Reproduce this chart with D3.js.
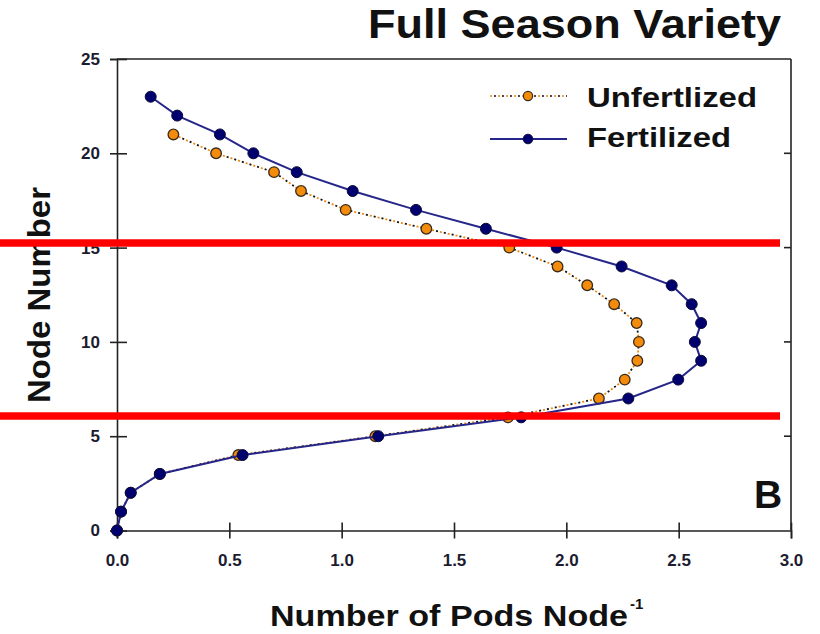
<!DOCTYPE html>
<html>
<head>
<meta charset="utf-8">
<script src="https://cdn.jsdelivr.net/npm/d3@7"></script>
<style>
  html, body { margin: 0; padding: 0; background: #ffffff; }
  svg { display: block; }
  text { font-family: "Liberation Sans", Arial, sans-serif; font-weight: bold; }
</style>
</head>
<body>
<svg id="chart" width="820" height="634"></svg>
<script>
// Node positions on the main stem
const nodes = [0, 1, 2, 3, 4, 5, 6, 7, 8, 9, 10, 11, 12, 13, 14, 15, 16, 17, 18, 19, 20, 21, 22, 23];

// Pods per node, unfertilized plants (no pods recorded above node 21)
const unfertilized = [0, 0.018, 0.061, 0.19, 0.54, 1.15, 1.74, 2.145, 2.26, 2.316, 2.323, 2.313, 2.213, 2.093,
                      1.961, 1.746, 1.377, 1.018, 0.819, 0.699, 0.441, 0.251, null, null];

// Pods per node, fertilized plants
const fertilized = [0, 0.018, 0.061, 0.191, 0.559, 1.163, 1.799, 2.276, 2.498, 2.6, 2.572, 2.6, 2.558, 2.469,
                    2.246, 1.957, 1.642, 1.331, 1.049, 0.8, 0.607, 0.458, 0.268, 0.15];

const xTicks = [0, 0.5, 1, 1.5, 2, 2.5, 3];
const yTicks = [0, 5, 10, 15, 20, 25];

// Node levels bracketed by the highlight bands
const bandNodes = [15.24, 6.07];

const svg = d3.select("#chart");

const x = d3.scaleLinear().domain([0, 3]).range([117, 791]);
const y = d3.scaleLinear().domain([0, 25]).range([530.5, 59]);

const tickColor = "#1c1c30";

// Frame: top and right edges
svg.append("line").attr("x1", x(0)).attr("x2", x(3)).attr("y1", y(25)).attr("y2", y(25))
  .attr("stroke", "#222").attr("stroke-width", 1.6);
svg.append("line").attr("x1", x(3)).attr("x2", x(3)).attr("y1", y(25)).attr("y2", y(0))
  .attr("stroke", "#222").attr("stroke-width", 1.6);
// inward ticks on the right edge
svg.selectAll("line.rtick").data(yTicks.filter(d => d > 0 && d < 25)).join("line")
  .attr("class", "rtick")
  .attr("x1", x(3) - 7).attr("x2", x(3))
  .attr("y1", d => y(d)).attr("y2", d => y(d))
  .attr("stroke", "#222").attr("stroke-width", 1.6);

// Bottom axis
const gx = svg.append("g").attr("transform", `translate(0,${y(0)})`)
  .call(d3.axisBottom(x).tickValues(xTicks).tickFormat(d3.format(".1f")).tickSize(8).tickPadding(15));
gx.select(".domain").attr("stroke", "#222").attr("stroke-width", 1.6);
gx.selectAll(".tick line").attr("y1", -8).attr("y2", 8).attr("stroke", "#222").attr("stroke-width", 1.6);
gx.selectAll(".tick text").attr("font-size", 17).attr("fill", tickColor)
  .attr("font-family", "Liberation Sans, Arial, sans-serif").attr("font-weight", "bold");

// Left axis
const gy = svg.append("g").attr("transform", `translate(${x(0)},0)`)
  .call(d3.axisLeft(y).tickValues(yTicks).tickSize(7).tickPadding(10));
gy.select(".domain").attr("stroke", "#222").attr("stroke-width", 1.6);
gy.selectAll(".tick line").attr("x1", -7).attr("x2", 10).attr("stroke", "#222").attr("stroke-width", 1.6);
gy.selectAll(".tick text").attr("font-size", 17).attr("fill", tickColor)
  .attr("font-family", "Liberation Sans, Arial, sans-serif").attr("font-weight", "bold");

// Series lines
const rows = nodes.map((n, i) => ({ n, u: unfertilized[i], f: fertilized[i] }));

const lineU = d3.line().defined(d => d.u != null).x(d => x(d.u)).y(d => y(d.n));
const lineF = d3.line().defined(d => d.f != null).x(d => x(d.f)).y(d => y(d.n));

// dotted unfertilized line: orange and black dots alternating
svg.append("path").datum(rows).attr("d", lineU).attr("fill", "none")
  .attr("stroke", "#f28a12").attr("stroke-width", 1.8).attr("stroke-dasharray", "2 6");
svg.append("path").datum(rows).attr("d", lineU).attr("fill", "none")
  .attr("stroke", "#111").attr("stroke-width", 1.8).attr("stroke-dasharray", "2 6").attr("stroke-dashoffset", 4);

svg.selectAll("circle.u").data(rows.filter(d => d.u != null)).join("circle")
  .attr("class", "u").attr("cx", d => x(d.u)).attr("cy", d => y(d.n)).attr("r", 5.3)
  .attr("fill", "#f38b0c").attr("stroke", "#3a2a1a").attr("stroke-width", 1.3);

svg.append("path").datum(rows).attr("d", lineF).attr("fill", "none")
  .attr("stroke", "#26268a").attr("stroke-width", 2);

svg.selectAll("circle.f").data(rows.filter(d => d.f != null)).join("circle")
  .attr("class", "f").attr("cx", d => x(d.f)).attr("cy", d => y(d.n)).attr("r", 5.5)
  .attr("fill", "#00006e").attr("stroke", "#0c0c3a").attr("stroke-width", 1);

// Legend
const lg = svg.append("g");
lg.append("line").attr("x1", 490).attr("x2", 567).attr("y1", 96).attr("y2", 96)
  .attr("stroke", "#f28a12").attr("stroke-width", 1.6).attr("stroke-dasharray", "2 6");
lg.append("line").attr("x1", 490).attr("x2", 567).attr("y1", 96).attr("y2", 96)
  .attr("stroke", "#111").attr("stroke-width", 1.6).attr("stroke-dasharray", "2 6").attr("stroke-dashoffset", 4);
lg.append("circle").attr("cx", 528).attr("cy", 96).attr("r", 4.6)
  .attr("fill", "#f38b0c").attr("stroke", "#3a2a1a").attr("stroke-width", 1.2);
lg.append("line").attr("x1", 490).attr("x2", 567).attr("y1", 139).attr("y2", 139)
  .attr("stroke", "#26268a").attr("stroke-width", 2);
lg.append("circle").attr("cx", 528).attr("cy", 139).attr("r", 4.8)
  .attr("fill", "#00006e").attr("stroke", "#0c0c3a").attr("stroke-width", 1);
lg.append("text").attr("x", 587).attr("y", 107).attr("font-size", 28).attr("fill", "#111")
  .attr("textLength", 170).attr("lengthAdjust", "spacingAndGlyphs").text("Unfertlized");
lg.append("text").attr("x", 587).attr("y", 147).attr("font-size", 28).attr("fill", "#111")
  .attr("textLength", 144).attr("lengthAdjust", "spacingAndGlyphs").text("Fertilized");

// Panel letter
svg.append("text").attr("x", 754).attr("y", 508).attr("font-size", 39).attr("fill", "#111").text("B");

// Title
svg.append("text").attr("x", 368).attr("y", 38).attr("font-size", 40).attr("fill", "#111")
  .attr("textLength", 413).attr("lengthAdjust", "spacingAndGlyphs").text("Full Season Variety");

// Axis titles
svg.append("text").attr("transform", "translate(50,295) rotate(-90)").attr("text-anchor", "middle")
  .attr("font-size", 32).attr("fill", "#111")
  .attr("textLength", 216).attr("lengthAdjust", "spacingAndGlyphs").text("Node Number");
svg.append("text").attr("x", 270).attr("y", 626).attr("font-size", 30).attr("fill", "#111")
  .attr("textLength", 358).attr("lengthAdjust", "spacingAndGlyphs").text("Number of Pods Node");
svg.append("text").attr("x", 630).attr("y", 609).attr("font-size", 15).attr("fill", "#111").text("-1");

// Highlight bands across the panel
svg.selectAll("line.band").data(bandNodes).join("line")
  .attr("class", "band")
  .attr("x1", 0).attr("x2", 780)
  .attr("y1", d => y(d)).attr("y2", d => y(d))
  .attr("stroke", "#ff0000").attr("stroke-width", 7.5);
</script>
</body>
</html>
